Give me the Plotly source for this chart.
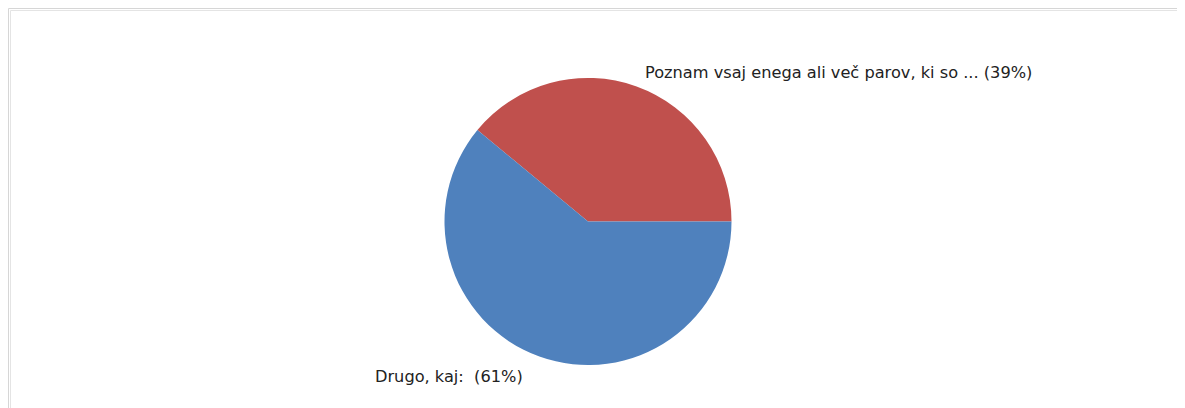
import plotly.graph_objects as go

# Data
labels = ["Poznam vsaj enega ali več parov, ki so ...", "Drugo, kaj: "]
values = [39, 61]
colors = ["#C0504D", "#4F81BD"]

# page body has an 8px margin, so the figure is drawn 8px in from the top-left
W, H = 1169, 400
cx, cy, r = 580, 213.5, 143.5  # pie centre / radius in figure pixels (layout only)

total = sum(values)
first_share = values[0] / total

fig = go.Figure()
fig.add_trace(go.Pie(
    labels=labels,
    values=values,
    marker=dict(colors=colors, line=dict(width=0)),
    sort=False,
    direction="counterclockwise",
    rotation=90 - 360 * first_share,  # first slice ends at 3 o'clock
    textinfo="none",
    hoverinfo="label+percent",
    showlegend=False,
    domain=dict(x=[(cx - r) / W, (cx + r) / W],
                y=[(H - cy - r) / H, (H - cy + r) / H]),
))

label_pos = [(635, 65), (365, 368)]  # text anchor positions (left, middle), px
for lab, val, (lx, ly) in zip(labels, values, label_pos):
    fig.add_annotation(
        x=lx / W, y=1 - ly / H, xref="paper", yref="paper",
        xanchor="left", yanchor="middle", showarrow=False,
        text=f"{lab} ({round(100 * val / total)}%)",
        font=dict(family="DejaVu Sans, Verdana, sans-serif", size=16.2, color="#222222"),
    )

# frame: double light-grey line along top and left only (open right/bottom)
for off, col in [(0.5, "#d6d6d6"), (2.5, "#e4e4e4")]:
    fig.add_shape(type="line", xref="paper", yref="paper",
                  x0=off / W, x1=1, y0=1 - off / H, y1=1 - off / H,
                  line=dict(color=col, width=1), layer="below")
    fig.add_shape(type="line", xref="paper", yref="paper",
                  x0=off / W, x1=off / W, y0=0, y1=1 - off / H,
                  line=dict(color=col, width=1), layer="below")

fig.update_layout(
    width=W, height=H,
    margin=dict(l=0, r=0, t=0, b=0),
    paper_bgcolor="white", plot_bgcolor="white",
)
fig.write_html("out.html")
